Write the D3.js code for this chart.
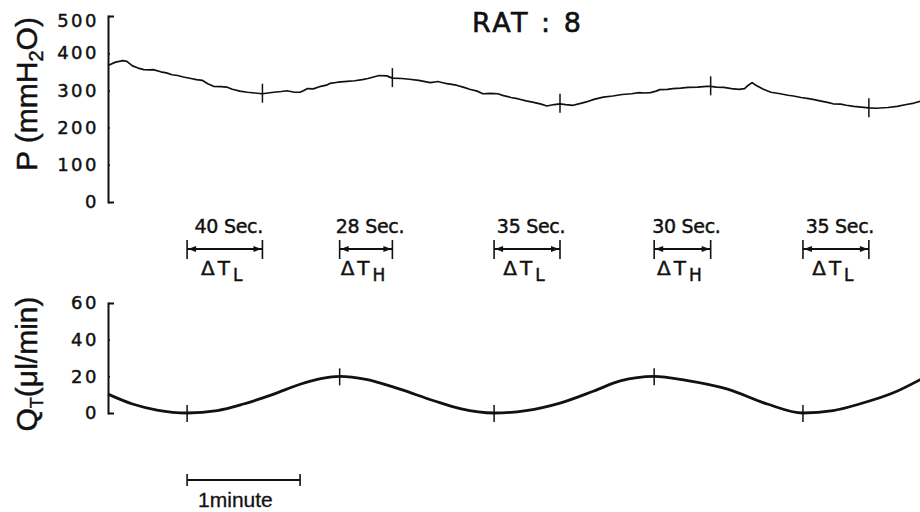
<!DOCTYPE html>
<html>
<head>
<meta charset="utf-8">
<script src="https://cdn.jsdelivr.net/npm/d3@7"></script>
<style>
  html, body { margin: 0; padding: 0; background: #fff; }
  svg { display: block; }
</style>
</head>
<body>
<svg id="chart" width="920" height="512"></svg>
<script>
// Pressure trace (seconds, mmH2O)
const pressureSeconds = [0, 4, 8, 10, 13, 16, 19, 22, 24, 28, 31, 34, 37, 40, 44, 47, 50, 53, 56, 60, 63, 66, 70, 74, 78, 82,
  85, 88, 92, 95, 99, 102, 104, 106, 109, 113, 116, 118, 122, 127, 131, 135, 138, 141, 144, 148, 151, 156, 160, 165,
  171, 173, 175, 180, 185, 189, 192, 196, 199, 203, 207, 210, 214, 218, 222, 226, 230, 233, 237, 240, 243, 247, 251,
  254, 258, 263, 268, 273, 278, 282, 285, 288, 291, 293, 297, 300, 304, 308, 313, 318, 320, 323, 327, 331, 335, 338,
  340, 342, 344, 348, 352, 357, 361, 364, 368, 372, 375, 378, 382, 385, 389, 392, 396, 400, 404, 408, 414, 419, 424, 428, 432]
const pressureValues = [367, 376, 380, 378, 366, 360, 356, 355, 356, 350, 347, 342, 340, 336, 332, 329, 327, 318, 311, 310, 309, 303,
  298, 295, 293, 291, 293, 295, 297, 299, 295, 295, 300, 305, 304, 311, 314, 319, 322, 324, 326, 329, 332, 336, 340, 339, 333,
  332, 330, 327, 321, 322, 324, 318, 314, 308, 303, 298, 291, 292, 291, 286, 281, 277, 272, 268, 263, 258, 262, 264,
  262, 260, 265, 269, 276, 282, 285, 289, 291, 294, 293, 294, 298, 302, 303, 305, 306, 308, 309, 311, 311, 309, 308, 305,
  303, 305, 314, 321, 314, 303, 295, 291, 287, 285, 281, 278, 275, 272, 268, 264, 263, 260, 257, 255, 253, 252, 254,
  257, 262, 266, 272, 276]

// Flow trace (seconds, µl/min)
const flowSeconds = [0, 13, 26, 42, 58, 72, 88, 102, 113, 123, 137, 155, 173, 187, 205, 222, 240, 258, 272, 290, 307, 329, 350, 369, 385, 399, 417, 432]
const flowValues = [10.3, 4.9, 1.6, 0, 1.3, 4.9, 10.3, 15.7, 18.7, 20, 18.4, 13, 6.7, 2.4, 0, 1.3, 5.4, 12, 17.5, 20, 17.8, 13, 4.9, 0, 1.3, 4.9, 11, 18.6]

// Marked extremes and the lags between them
const flowMarkerSeconds = [42, 123, 205, 290, 369]
const flowMarkerValues = [0, 20, 0, 20, 0]
const intervalSeconds = [40, 28, 35, 30, 35]
const intervalKinds = ["L", "H", "L", "H", "L"]
const pressureMarkerValues = [291, 333, 264, 311, 252]

const pressureTicks = [0, 100, 200, 300, 400, 500]
const flowTicks = [0, 20, 40, 60]
const scaleBarStart = 42
const scaleBarSeconds = 60

const numFont = "DejaVu Sans"
const textFont = "Liberation Sans, Arial, sans-serif"
const ink = "#111"

const svg = d3.select("#chart")

const x = d3.scaleLinear().domain([0, 432]).range([108, 921.6])
const yP = d3.scaleLinear().domain([0, 500]).range([202, 16])
const yQ = d3.scaleLinear().domain([0, 60]).range([413, 303])

// heavier lettering, like the pen-drawn original
const inked = sel => sel.attr("fill", ink).attr("stroke", ink).attr("stroke-width", 0.45)

// Axes: bracket style, caps pointing inward
function styleAxis(g) {
  g.attr("font-family", numFont).attr("font-size", 18)
  g.select(".domain").attr("stroke", ink).attr("stroke-width", 2)
  g.selectAll(".tick line").attr("stroke", ink).attr("stroke-width", 1.5)
  g.selectAll(".tick text").call(inked).attr("letter-spacing", 2.5)
}

svg.append("g").attr("transform", "translate(108,0)")
  .call(d3.axisLeft(yP).tickValues(pressureTicks).tickSizeInner(-2).tickSizeOuter(-6).tickPadding(9))
  .call(styleAxis)
  .call(g => g.selectAll(".tick text").filter(d => d === 500).attr("dy", "0.6em"))

svg.append("g").attr("transform", "translate(108,0)")
  .call(d3.axisLeft(yQ).tickValues(flowTicks).tickSizeInner(-2).tickSizeOuter(-6).tickPadding(9))
  .call(styleAxis)

// Axis titles
const pTitle = svg.append("text").attr("transform", "translate(37,94) rotate(-90)")
  .attr("text-anchor", "middle").attr("font-family", textFont).attr("font-size", 30).call(inked)
pTitle.append("tspan").text("P (mmH")
pTitle.append("tspan").attr("font-size", 20).attr("dy", 6).text("2")
pTitle.append("tspan").attr("dy", -6).text("O)")

const qTitle = svg.append("text").attr("transform", "translate(37,364) rotate(-90)")
  .attr("text-anchor", "middle").attr("font-family", textFont).attr("font-size", 30).call(inked)
qTitle.append("tspan").text("Q")
qTitle.append("tspan").attr("font-size", 18).attr("dy", 6).text("T")
qTitle.append("tspan").attr("dy", -6).text("(μl/min)")

// Title
svg.append("text").attr("x", 472).attr("y", 32)
  .attr("font-family", numFont).attr("font-size", 27).attr("letter-spacing", 2.5).call(inked)
  .attr("stroke-width", 0.6)
  .text("RAT : 8")

// Traces
const pressure = pressureSeconds.map((t, i) => [t, pressureValues[i]])
const flow = flowSeconds.map((t, i) => [t, flowValues[i]])

svg.append("path").datum(pressure)
  .attr("fill", "none").attr("stroke", ink).attr("stroke-width", 1.7).attr("stroke-linejoin", "round")
  .attr("d", d3.line().x(d => x(d[0])).y(d => yP(d[1])))

svg.append("path").datum(flow)
  .attr("fill", "none").attr("stroke", ink).attr("stroke-width", 2.8)
  .attr("d", d3.line().x(d => x(d[0])).y(d => yQ(d[1])).curve(d3.curveMonotoneX))

// Cross marks on the extremes
const pressureMarkerSeconds = flowMarkerSeconds.map((t, i) => t + intervalSeconds[i])

svg.append("g").selectAll("line").data(pressureMarkerSeconds).join("line")
  .attr("x1", d => x(d)).attr("x2", d => x(d))
  .attr("y1", (d, i) => yP(pressureMarkerValues[i]) - 10)
  .attr("y2", (d, i) => yP(pressureMarkerValues[i]) + 9)
  .attr("stroke", ink).attr("stroke-width", 1.5)

svg.append("g").selectAll("line").data(flowMarkerSeconds).join("line")
  .attr("x1", d => x(d)).attr("x2", d => x(d))
  .attr("y1", (d, i) => yQ(flowMarkerValues[i]) - 8)
  .attr("y2", (d, i) => yQ(flowMarkerValues[i]) + 9)
  .attr("stroke", ink).attr("stroke-width", 1.5)

// Lag brackets
const bracketY = 249
const bracket = svg.append("g").selectAll("g").data(flowMarkerSeconds).join("g")

bracket.append("line")
  .attr("x1", d => x(d)).attr("x2", (d, i) => x(d + intervalSeconds[i]))
  .attr("y1", bracketY).attr("y2", bracketY)
  .attr("stroke", ink).attr("stroke-width", 1.8)
bracket.append("line")
  .attr("x1", d => x(d)).attr("x2", d => x(d)).attr("y1", bracketY - 9).attr("y2", bracketY + 10)
  .attr("stroke", ink).attr("stroke-width", 1.6)
bracket.append("line")
  .attr("x1", (d, i) => x(d + intervalSeconds[i])).attr("x2", (d, i) => x(d + intervalSeconds[i]))
  .attr("y1", bracketY - 9).attr("y2", bracketY + 10)
  .attr("stroke", ink).attr("stroke-width", 1.6)
bracket.append("path")
  .attr("fill", ink)
  .attr("d", (d, i) => {
    const a = x(d), b = x(d + intervalSeconds[i])
    return `M${a + 1},${bracketY}L${a + 9},${bracketY - 3}L${a + 9},${bracketY + 3}Z` +
      `M${b - 1},${bracketY}L${b - 9},${bracketY - 3}L${b - 9},${bracketY + 3}Z`
  })

bracket.append("text")
  .attr("x", (d, i) => (x(d) + x(d + intervalSeconds[i])) / 2 + 4).attr("y", 233)
  .attr("text-anchor", "middle").attr("font-family", numFont).attr("font-size", 19).call(inked)
  .attr("letter-spacing", -0.3)
  .text((d, i) => `${intervalSeconds[i]} Sec.`)

const dt = bracket.append("text")
  .attr("x", (d, i) => (x(d) + x(d + intervalSeconds[i])) / 2 - 3).attr("y", 275)
  .attr("text-anchor", "middle").attr("font-family", numFont).attr("font-size", 20).call(inked)
dt.append("tspan").attr("letter-spacing", 3).text("ΔT")
dt.append("tspan").attr("font-size", 17).attr("dy", 6).text((d, i) => intervalKinds[i])

// One-minute scale bar
const sb0 = x(scaleBarStart), sb1 = x(scaleBarStart + scaleBarSeconds), sbY = 480
svg.append("line").attr("x1", sb0).attr("x2", sb1).attr("y1", sbY).attr("y2", sbY)
  .attr("stroke", ink).attr("stroke-width", 1.8)
svg.append("line").attr("x1", sb0).attr("x2", sb0).attr("y1", sbY - 6).attr("y2", sbY + 6)
  .attr("stroke", ink).attr("stroke-width", 1.6)
svg.append("line").attr("x1", sb1).attr("x2", sb1).attr("y1", sbY - 6).attr("y2", sbY + 6)
  .attr("stroke", ink).attr("stroke-width", 1.6)
svg.append("text").attr("x", sb0 + 11).attr("y", 507)
  .attr("font-family", textFont).attr("font-size", 21).call(inked).attr("stroke-width", 0.3)
  .text("1minute")
</script>
</body>
</html>
